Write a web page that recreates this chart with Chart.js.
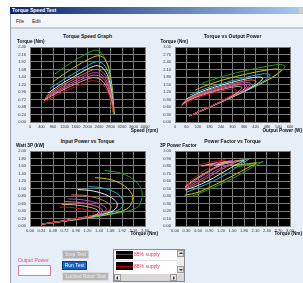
<!DOCTYPE html>
<html><head><meta charset="utf-8">
<script src="https://cdn.jsdelivr.net/npm/chart.js@4.4.1/dist/chart.umd.min.js"></script>
<style>
html,body{margin:0;padding:0;background:#fff;width:303px;height:283px;overflow:hidden;font-family:"Liberation Sans",Arial,sans-serif;}
.a{position:absolute;white-space:nowrap;line-height:1;}
.b{font-weight:bold;}
canvas{position:absolute;}
.tri-up{position:absolute;width:0;height:0;border-left:2px solid transparent;border-right:2px solid transparent;border-bottom:2px solid #333;}
.tri-dn{position:absolute;width:0;height:0;border-left:2px solid transparent;border-right:2px solid transparent;border-top:2px solid #333;}
.tri-l{position:absolute;width:0;height:0;border-top:2px solid transparent;border-bottom:2px solid transparent;border-right:2px solid #333;}
.tri-r{position:absolute;width:0;height:0;border-top:2px solid transparent;border-bottom:2px solid transparent;border-left:2px solid #333;}
</style>
</head><body>
<div class="a" style="left:10px;top:7px;width:293px;height:276px;background:#e6eef8;border-left:1px solid #9aa4b0;"></div>
<div class="a" style="left:10px;top:7px;width:293px;height:7px;background:linear-gradient(to right,#0a246a,#a6caf0);"></div>
<div class="a b" style="left:12px;top:8px;font-size:5px;color:#fff;">Torque Speed Test</div>
<div class="a" style="left:299px;top:8px;width:4px;height:5px;background:#d4d0c8;"></div>
<div class="a" style="left:11px;top:14px;width:292px;height:13px;background:#f5f6f8;"></div>
<div class="a" style="left:16px;top:19px;font-size:5px;color:#222;">File</div>
<div class="a" style="left:32px;top:19px;font-size:5px;color:#222;">Edit</div>
<div class="a" style="left:11px;top:27px;width:292px;height:2px;background:#c9cdd3;"></div>

<canvas id="c1" width="165" height="92" style="left:0px;top:40px;"></canvas>
<canvas id="c2" width="158" height="92" style="left:145px;top:40px;"></canvas>
<canvas id="c3" width="165" height="92" style="left:0px;top:144px;"></canvas>
<canvas id="c4" width="158" height="92" style="left:145px;top:144px;"></canvas>

<div class="a b" style="font-size:5px;left:37.5px;width:100px;text-align:center;top:33.5px;color:#111;">Torque Speed Graph</div>
<div class="a b" style="font-size:5px;left:182.5px;width:100px;text-align:center;top:33.5px;color:#111;">Torque vs Output Power</div>
<div class="a b" style="font-size:5px;left:37.5px;width:100px;text-align:center;top:138.5px;color:#111;">Input Power vs Torque</div>
<div class="a b" style="font-size:5px;left:182.5px;width:100px;text-align:center;top:138.5px;color:#111;">Power Factor vs Torque</div>

<div class="a b" style="font-size:4.7px;left:17px;top:39.8px;color:#111;">Torque (Nm)</div>
<div class="a b" style="font-size:4.7px;left:160.5px;top:39.8px;color:#111;">Torque (Nm)</div>
<div class="a b" style="font-size:4.7px;left:16px;top:144.3px;color:#111;">Watt 3P (kW)</div>
<div class="a b" style="font-size:4.7px;left:160px;top:144.3px;color:#111;">3P Power Factor</div>
<div class="a b" style="font-size:4.7px;right:145px;top:128.5px;color:#111;text-align:right;">Speed (rpm)</div>
<div class="a b" style="font-size:4.7px;right:1px;top:128.5px;color:#111;text-align:right;">Output Power (W)</div>
<div class="a b" style="font-size:4.7px;right:145px;top:231.8px;color:#111;text-align:right;">Torque (Nm)</div>
<div class="a b" style="font-size:4.7px;right:1px;top:231.8px;color:#111;text-align:right;">Torque (Nm)</div>

<div class="a" style="left:18px;top:257.5px;font-size:5px;color:#e0508c;">Output Power</div>
<div class="a" style="left:18px;top:265px;width:33px;height:11px;box-sizing:border-box;border:1px solid #e27aa5;background:#fff;"></div>

<div class="a" style="left:62px;top:250px;width:27px;height:9px;box-sizing:border-box;background:#b4b4b4;border:1px solid #d6d6d6;color:#ececec;font-size:5px;line-height:7px;text-align:center;">Stop Test</div>
<div class="a" style="left:62px;top:261px;width:25px;height:9px;box-sizing:border-box;background:#1864c4;border:1px solid #0c3c80;color:#fff;font-size:5px;line-height:7px;text-align:center;">Run Test</div>
<div class="a" style="left:62px;top:272px;width:47px;height:9px;box-sizing:border-box;background:#b8b8b8;border:1px solid #dcdcdc;color:#ececec;font-size:5px;line-height:7px;text-align:center;">Locked Rotor Test</div>

<div class="a" style="left:113px;top:249px;width:72px;height:33px;box-sizing:border-box;border:1px solid #8a8a8a;background:#e2e2e2;"></div>
<div class="a" style="left:114px;top:250px;width:63px;height:24px;background:#fff;"></div>
<div class="a" style="left:116px;top:251px;width:17px;height:8px;background:#000;"></div>
<div class="a" style="left:116px;top:254px;width:17px;height:1px;background:#555;"></div>
<div class="a" style="left:134px;top:252px;font-size:5px;color:#e03a5a;">85% supply</div>
<div class="a" style="left:114px;top:260px;width:63px;height:1px;background:#ddd;"></div>
<div class="a" style="left:116px;top:262px;width:17px;height:8px;background:#000;"></div>
<div class="a" style="left:116px;top:266px;width:17px;height:1px;background:#b00000;"></div>
<div class="a" style="left:134px;top:263.5px;font-size:5px;color:#e03a5a;">88% supply</div>
<div class="a" style="left:177px;top:250px;width:7px;height:24px;background:#ececec;"></div>
<div class="a" style="left:177px;top:250px;width:7px;height:7px;box-sizing:border-box;background:#e0e0e0;border:1px solid #999;"></div>
<div class="tri-up" style="left:178.5px;top:252px;"></div>
<div class="a" style="left:177px;top:266px;width:7px;height:7px;box-sizing:border-box;background:#e0e0e0;border:1px solid #999;"></div>
<div class="tri-dn" style="left:178.5px;top:268.5px;"></div>
<div class="a" style="left:114px;top:274px;width:70px;height:7px;background:#d8d8d8;"></div>
<div class="a" style="left:114px;top:274px;width:7px;height:7px;box-sizing:border-box;background:#e6e6e6;border:1px solid #999;"></div>
<div class="tri-l" style="left:116px;top:275.5px;"></div>
<div class="a" style="left:170px;top:274px;width:7px;height:7px;box-sizing:border-box;background:#e6e6e6;border:1px solid #999;"></div>
<div class="tri-r" style="left:172.5px;top:275.5px;"></div>

<script>
// ---- series (supply voltage levels) ----
const seriesNames = ['85% supply','88% supply','91% supply','94% supply','97% supply','100% supply','103% supply','106% supply','109% supply'];
const seriesColors = ['#c81414','#c8b478','#ff55b4','#b84cc4','#d67a40','#e8e8e8','#22b8d0','#d2c400','#1ea01e'];

// ---- Chart 1: Torque Speed Graph ----
const tsSpeed = [
  [460, 800, 1200, 1600, 1900, 2150, 2400, 2600, 2750, 2850, 2900],
  [480, 800, 1200, 1600, 1900, 2180, 2420, 2620, 2760, 2860, 2905],
  [500, 800, 1200, 1600, 1900, 2200, 2440, 2640, 2770, 2865, 2910],
  [520, 800, 1200, 1600, 1900, 2220, 2460, 2650, 2780, 2870, 2910],
  [560, 800, 1200, 1600, 1950, 2250, 2480, 2670, 2790, 2875, 2915],
  [620, 900, 1200, 1600, 1950, 2280, 2500, 2690, 2800, 2880, 2915],
  [700, 1000, 1300, 1600, 2000, 2300, 2520, 2710, 2810, 2885, 2920],
  [790, 1000, 1300, 1650, 2000, 2350, 2560, 2730, 2830, 2890, 2925],
  [870, 1100, 1400, 1700, 2000, 2250, 2450, 2610, 2760, 2860, 2905, 2930]
];
const tsTorque = [
  [0.62, 0.80, 0.98, 1.14, 1.25, 1.32, 1.28, 1.12, 0.86, 0.55, 0.26],
  [0.68, 0.86, 1.05, 1.22, 1.34, 1.42, 1.38, 1.20, 0.92, 0.58, 0.26],
  [0.72, 0.90, 1.10, 1.28, 1.41, 1.50, 1.46, 1.28, 0.98, 0.60, 0.26],
  [0.76, 0.94, 1.15, 1.34, 1.48, 1.58, 1.54, 1.35, 1.03, 0.62, 0.25],
  [0.82, 0.98, 1.21, 1.41, 1.57, 1.68, 1.63, 1.43, 1.08, 0.64, 0.25],
  [0.92, 1.10, 1.28, 1.49, 1.67, 1.80, 1.75, 1.52, 1.14, 0.66, 0.25],
  [1.08, 1.26, 1.43, 1.59, 1.80, 1.93, 1.88, 1.62, 1.20, 0.68, 0.25],
  [1.28, 1.42, 1.61, 1.81, 1.99, 2.12, 2.06, 1.76, 1.28, 0.70, 0.25],
  [1.54, 1.69, 1.88, 2.05, 2.20, 2.30, 2.24, 2.02, 1.60, 1.10, 0.62, 0.25]
];
const tsSpeedTicks = [0, 400, 800, 1200, 1600, 2000, 2400, 2800, 3200, 3600, 4000];
const tsSpeedLabels = ['0','400','800','1200','1600','2000','2400','2800','3200','3600','4000'];
const tsTorqueTicks = [0, 0.24, 0.48, 0.72, 0.96, 1.2, 1.44, 1.68, 1.92, 2.16, 2.4];
const tsTorqueLabels = ['0.00','0.24','0.48','0.72','0.96','1.20','1.44','1.68','1.92','2.16','2.40'];

// ---- Chart 2: Torque vs Output Power (torque = tsTorque) ----
const toPower = [
  [29.9, 67.0, 123.2, 191.0, 248.7, 297.2, 321.7, 304.9, 247.7, 164.1, 79.0],
  [34.2, 72.0, 131.9, 204.4, 266.6, 324.2, 349.7, 329.2, 265.9, 173.7, 79.1],
  [37.7, 75.4, 138.2, 214.5, 280.5, 345.6, 373.1, 353.9, 284.3, 180.0, 79.2],
  [41.4, 78.7, 144.5, 224.5, 294.5, 367.3, 396.7, 374.6, 299.9, 186.3, 76.2],
  [48.1, 82.1, 152.1, 236.2, 320.6, 395.8, 423.3, 399.8, 315.5, 192.7, 76.3],
  [59.7, 103.7, 160.8, 249.7, 341.0, 429.8, 458.2, 428.2, 334.3, 199.1, 76.3],
  [79.2, 131.9, 194.7, 266.4, 377.0, 464.9, 496.1, 459.7, 353.1, 205.4, 76.4],
  [105.9, 148.7, 219.2, 312.7, 416.8, 521.7, 552.3, 503.2, 379.3, 211.8, 76.6],
  [140.3, 194.7, 275.6, 364.9, 460.8, 541.9, 574.7, 552.1, 462.4, 329.4, 188.6, 76.7]
];
const toPowerTicks = [0, 60, 120, 180, 240, 300, 360, 420, 480, 540, 600];
const toPowerLabels = ['0','60','120','180','240','300','360','420','480','540','600'];
const toTorqueTicks = [0, 0.3, 0.6, 0.9, 1.2, 1.5, 1.8, 2.1, 2.4, 2.7, 3.0];
const toTorqueLabels = ['0.00','0.30','0.60','0.90','1.20','1.50','1.80','2.10','2.40','2.70','3.00'];

// ---- Chart 3: Input Power vs Torque ----
const ipTorque = [
  [0.62, 0.82, 1.00, 1.16, 1.27, 1.33, 1.32, 1.27, 1.15, 0.94, 0.68, 0.40, 0.25],
  [0.66, 0.88, 1.08, 1.25, 1.37, 1.43, 1.42, 1.36, 1.23, 1.00, 0.72, 0.42, 0.25],
  [0.72, 0.95, 1.16, 1.33, 1.45, 1.51, 1.50, 1.44, 1.30, 1.06, 0.76, 0.44, 0.25],
  [0.80, 1.02, 1.23, 1.41, 1.53, 1.59, 1.58, 1.52, 1.37, 1.12, 0.80, 0.46, 0.25],
  [0.86, 1.10, 1.32, 1.50, 1.63, 1.69, 1.68, 1.61, 1.45, 1.18, 0.85, 0.48, 0.25],
  [1.00, 1.25, 1.46, 1.64, 1.76, 1.82, 1.81, 1.74, 1.56, 1.25, 0.90, 0.50, 0.25],
  [1.22, 1.45, 1.64, 1.80, 1.90, 1.95, 1.94, 1.87, 1.68, 1.35, 0.95, 0.52, 0.25],
  [1.36, 1.60, 1.80, 1.96, 2.08, 2.14, 2.13, 2.05, 1.85, 1.50, 1.00, 0.55, 0.25],
  [1.56, 1.80, 2.00, 2.16, 2.28, 2.34, 2.33, 2.26, 2.05, 1.60, 1.10, 0.60, 0.26]
];
const ipPower = [
  [0.50, 0.50, 0.47, 0.44, 0.40, 0.35, 0.31, 0.27, 0.23, 0.19, 0.13, 0.08, 0.05],
  [0.58, 0.57, 0.54, 0.50, 0.45, 0.39, 0.34, 0.29, 0.25, 0.20, 0.14, 0.08, 0.05],
  [0.65, 0.64, 0.60, 0.55, 0.49, 0.43, 0.37, 0.32, 0.27, 0.22, 0.15, 0.09, 0.05],
  [0.72, 0.71, 0.67, 0.61, 0.54, 0.47, 0.40, 0.34, 0.29, 0.23, 0.16, 0.09, 0.05],
  [0.83, 0.82, 0.77, 0.70, 0.61, 0.53, 0.45, 0.37, 0.31, 0.24, 0.16, 0.09, 0.05],
  [0.97, 0.95, 0.89, 0.80, 0.70, 0.60, 0.50, 0.41, 0.33, 0.25, 0.17, 0.10, 0.05],
  [1.05, 1.03, 0.97, 0.88, 0.77, 0.66, 0.55, 0.44, 0.35, 0.26, 0.17, 0.10, 0.05],
  [1.29, 1.26, 1.19, 1.08, 0.94, 0.80, 0.65, 0.48, 0.37, 0.28, 0.18, 0.10, 0.05],
  [1.48, 1.44, 1.36, 1.24, 1.08, 0.90, 0.72, 0.52, 0.40, 0.29, 0.19, 0.11, 0.05]
];
const ipTorqueTicks = [0, 0.24, 0.48, 0.72, 0.96, 1.2, 1.44, 1.68, 1.92, 2.16, 2.4];
const ipTorqueLabels = ['0.00','0.24','0.48','0.72','0.96','1.20','1.44','1.68','1.92','2.16','2.40'];
const ipPowerTicks = [0, 0.2, 0.4, 0.6, 0.8, 1.0, 1.2, 1.4, 1.6, 1.8, 2.0];
const ipPowerLabels = ['0.00','0.20','0.40','0.60','0.80','1.00','1.20','1.40','1.60','1.80','2.00'];

// ---- Chart 4: Power Factor vs Torque ----
const pfTorque = [
  [0.62, 0.82, 1.00, 1.16, 1.27, 1.32, 1.15, 0.90, 0.65, 0.42, 0.26],
  [0.68, 0.90, 1.10, 1.28, 1.38, 1.42, 1.25, 1.00, 0.70, 0.45, 0.26],
  [0.72, 0.95, 1.15, 1.33, 1.45, 1.50, 1.30, 1.00, 0.75, 0.50, 0.26],
  [0.76, 1.00, 1.20, 1.40, 1.52, 1.58, 1.40, 1.10, 0.80, 0.50, 0.26],
  [0.82, 1.05, 1.28, 1.48, 1.62, 1.68, 1.50, 1.20, 0.90, 0.55, 0.26],
  [0.92, 1.15, 1.38, 1.58, 1.74, 1.80, 1.60, 1.30, 1.00, 0.60, 0.26],
  [1.08, 1.30, 1.52, 1.72, 1.87, 1.93, 1.70, 1.40, 1.00, 0.60, 0.30],
  [1.28, 1.50, 1.72, 1.92, 2.06, 2.12, 1.80, 1.40, 1.00, 0.60, 0.25],
  [1.54, 1.75, 1.95, 2.12, 2.25, 2.30, 2.00, 1.60, 1.20, 0.80, 0.45]
];
const pfFactor = [
  [0.81, 0.84, 0.86, 0.87, 0.88, 0.88, 0.85, 0.78, 0.70, 0.61, 0.545],
  [0.80, 0.82, 0.84, 0.85, 0.86, 0.86, 0.83, 0.77, 0.68, 0.60, 0.52],
  [0.80, 0.83, 0.85, 0.86, 0.87, 0.87, 0.83, 0.76, 0.68, 0.60, 0.51],
  [0.80, 0.82, 0.84, 0.85, 0.86, 0.86, 0.82, 0.75, 0.66, 0.57, 0.50],
  [0.81, 0.83, 0.85, 0.86, 0.87, 0.87, 0.83, 0.75, 0.66, 0.56, 0.49],
  [0.80, 0.82, 0.84, 0.86, 0.87, 0.87, 0.82, 0.73, 0.64, 0.54, 0.48],
  [0.82, 0.84, 0.86, 0.88, 0.89, 0.89, 0.82, 0.71, 0.60, 0.51, 0.45],
  [0.80, 0.81, 0.82, 0.83, 0.84, 0.84, 0.75, 0.64, 0.54, 0.45, 0.41],
  [0.78, 0.80, 0.82, 0.84, 0.85, 0.86, 0.78, 0.66, 0.56, 0.47, 0.40]
];
const pfTorqueTicks = [0, 0.3, 0.6, 0.9, 1.2, 1.5, 1.8, 2.1, 2.4, 2.7, 3.0];
const pfTorqueLabels = ['0.00','0.30','0.60','0.90','1.20','1.50','1.80','2.10','2.40','2.70','3.00'];
const pfFactorTicks = [0, 0.1, 0.2, 0.3, 0.4, 0.5, 0.6, 0.7, 0.8, 0.9, 1.0];
const pfFactorLabels = ['0.00','0.10','0.20','0.30','0.40','0.50','0.60','0.70','0.80','0.90','1.00'];

Chart.defaults.font.family = '"Liberation Sans", Arial, sans-serif';

const plotBg = {
  id: 'plotBg',
  beforeDraw(chart) {
    const a = chart.chartArea, ctx = chart.ctx;
    ctx.save();
    ctx.fillStyle = '#000';
    ctx.fillRect(a.left, a.top, a.right - a.left, a.bottom - a.top);
    ctx.restore();
  }
};

function axis(ticks, labels, dir) {
  return {
    type: 'linear',
    min: ticks[0],
    max: ticks[ticks.length - 1],
    afterBuildTicks: s => { s.ticks = ticks.map(v => ({ value: v })); },
    afterFit: s => { if (dir === 'x') s.height = 8; else s.width = 20; },
    grid: { color: '#7c7c7c', lineWidth: 1, drawTicks: false },
    border: { display: true, color: '#7c7c7c' },
    ticks: {
      autoSkip: false, maxRotation: 0, minRotation: 0,
      padding: dir === 'x' ? 2 : 4,
      color: '#333',
      font: { size: 4 },
      callback: (v, i) => labels[i]
    }
  };
}

function makeChart(id, xs, ys, xTicks, xLabels, yTicks, yLabels, pad) {
  const datasets = xs.map((xa, i) => ({
    label: seriesNames[i],
    data: xa.map((x, j) => ({ x: x, y: ys[i][j] })),
    borderColor: seriesColors[i],
    backgroundColor: seriesColors[i],
    borderWidth: 1,
    pointRadius: 0,
    showLine: true,
    tension: 0.3,
    fill: false
  }));
  new Chart(document.getElementById(id), {
    type: 'scatter',
    data: { datasets },
    options: {
      responsive: false,
      animation: false,
      events: [],
      layout: { padding: pad },
      plugins: { legend: { display: false }, tooltip: { enabled: false }, title: { display: false } },
      scales: { x: axis(xTicks, xLabels, 'x'), y: axis(yTicks, yLabels, 'y') }
    },
    plugins: [plotBg]
  });
}

makeChart('c1', tsSpeed, tsTorque, tsSpeedTicks, tsSpeedLabels, tsTorqueTicks, tsTorqueLabels, { left: 10, top: 7, right: 20, bottom: 2 });
makeChart('c2', toPower, tsTorque, toPowerTicks, toPowerLabels, toTorqueTicks, toTorqueLabels, { left: 10, top: 7, right: 13, bottom: 2 });
makeChart('c3', ipTorque, ipPower, ipTorqueTicks, ipTorqueLabels, ipPowerTicks, ipPowerLabels, { left: 10, top: 7, right: 20, bottom: 2 });
makeChart('c4', pfTorque, pfFactor, pfTorqueTicks, pfTorqueLabels, pfFactorTicks, pfFactorLabels, { left: 10, top: 7, right: 13, bottom: 2 });
</script>
</body></html>
